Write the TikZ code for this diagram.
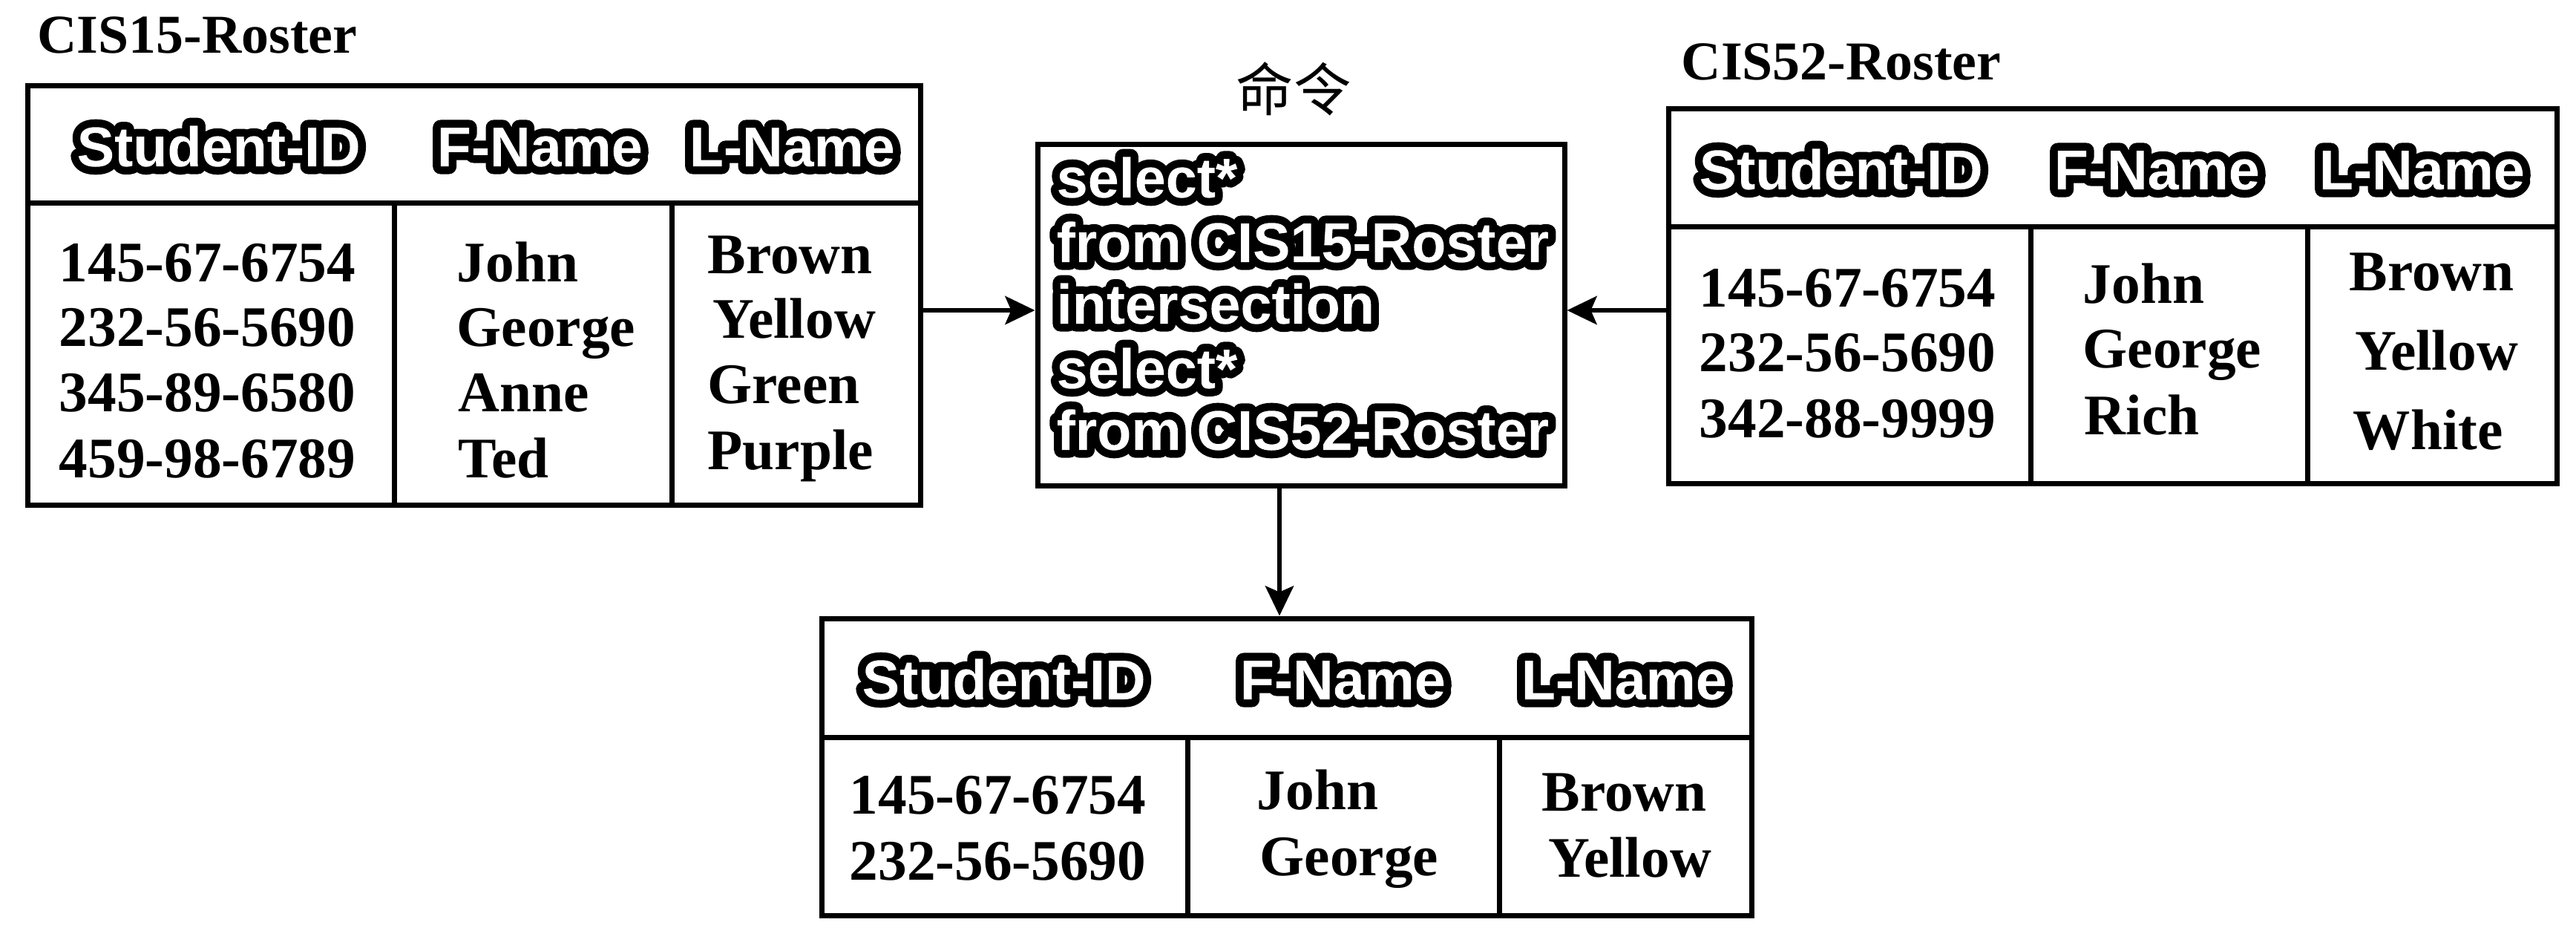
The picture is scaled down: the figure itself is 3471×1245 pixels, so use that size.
\documentclass[tikz,border=0pt]{standalone}
\usepackage{fontspec}
\setmainfont{Liberation Serif}
\newfontfamily\hsans{Liberation Sans Bold}
\newfontfamily\cjk{Noto Sans CJK SC}
\usetikzlibrary{arrows.meta,fit}
\newsavebox\olbox
\makeatletter
\newcommand\olt[1]{%
  \sbox\olbox{#1}%
  \special{x:gsave}%
  \special{pdf:literal direct 6 Tr 6 w 1 j 0 g 0 G}%
  \usebox\olbox
  \special{pdf:content 1 g \strip@pt\dimexpr-\wd\olbox-4pt\relax\space\strip@pt\dimexpr-\dp\olbox-4pt\relax\space\strip@pt\dimexpr\wd\olbox+8pt\relax\space\strip@pt\dimexpr\ht\olbox+\dp\olbox+8pt\relax\space re f}%
  \special{x:grestore}}
\makeatother
\begin{document}
\begin{tikzpicture}[x=0.1mm,y=-0.1mm,
  tbl/.style={draw, line width=0.7mm, inner sep=0pt},
  ln/.style={line width=0.7mm},
  dat/.style={anchor=base west, inner sep=0pt, font=\bfseries\fontsize{22pt}{26pt}\selectfont},
  ttl/.style={anchor=base west, inner sep=0pt, font=\bfseries\fontsize{21pt}{26pt}\selectfont},
  hdr/.style={anchor=base west, inner sep=0pt, font=\hsans\fontsize{21.5pt}{26pt}\selectfont},
  arr/.style={line width=0.65mm, -{Stealth[length=4mm,width=3.8mm,inset=0.8mm]}}]
\useasboundingbox (0,0) rectangle (3471,1245);

% ---------- CIS15 ----------
\node[ttl] (n15) at (50,71) {CIS15-Roster};
\node[tbl, fit={(37,115) (1240,680)}] (t15) {};
\draw[ln] (37,273) -- (1240,273);
\draw[ln] (531,273) -- (531,680);
\draw[ln] (905,273) -- (905,680);
\node[hdr] (h15a) at (103,224) {\olt{Student-ID}};
\node[hdr] (h15b) at (588,224) {\olt{F-Name}};
\node[hdr] (h15c) at (928,224) {\olt{L-Name}};
\node[dat] (a1) at (79,379) {145-67-6754};
\node[dat] (a2) at (79,466) {232-56-5690};
\node[dat] (a3) at (79,554) {345-89-6580};
\node[dat] (a4) at (79,643) {459-98-6789};
\node[dat] (b1) at (615,379) {John};
\node[dat] (b2) at (615,466) {George};
\node[dat] (b3) at (617,554) {Anne};
\node[dat] (b4) at (617,643) {Ted};
\node[dat] (c1) at (953,368) {Brown};
\node[dat] (c2) at (960,455) {Yellow};
\node[dat] (c3) at (953,543) {Green};
\node[dat] (c4) at (953,632) {Purple};

% ---------- command box ----------
\node[font=\cjk\fontsize{22pt}{26pt}\selectfont, inner sep=0pt] (cmd) at (1743,120) {命令};
\node[tbl, fit={(1398,194) (2108,654)}] (sql) {};
\node[hdr] (q1) at (1423,266) {\olt{select*}};
\node[hdr] (q2) at (1423,353) {\olt{from CIS15-Roster}};
\node[hdr] (q3) at (1423,436) {\olt{intersection}};
\node[hdr] (q4) at (1423,523) {\olt{select*}};
\node[hdr] (q5) at (1423,606) {\olt{from CIS52-Roster}};

% ---------- CIS52 ----------
\node[ttl] (n52) at (2265,107) {CIS52-Roster};
\node[tbl, fit={(2248,146) (3445,651)}] (t52) {};
\draw[ln] (2248,305) -- (3445,305);
\draw[ln] (2736,305) -- (2736,651);
\draw[ln] (3109,305) -- (3109,651);
\node[hdr] (h52a) at (2289,255) {\olt{Student-ID}};
\node[hdr] (h52b) at (2767,255) {\olt{F-Name}};
\node[hdr] (h52c) at (3124,255) {\olt{L-Name}};
\node[dat] (d1) at (2289,413) {145-67-6754};
\node[dat] (d2) at (2289,500) {232-56-5690};
\node[dat] (d3) at (2289,589) {342-88-9999};
\node[dat] (e1) at (2806,408) {John};
\node[dat] (e2) at (2806,495) {George};
\node[dat] (e3) at (2808,585) {Rich};
\node[dat] (f1) at (3165,391) {Brown};
\node[dat] (f2) at (3173,498) {Yellow};
\node[dat] (f3) at (3170,605) {White};

% ---------- result ----------
\node[tbl, fit={(1107,833) (2360,1233)}] (tres) {};
\draw[ln] (1107,993) -- (2360,993);
\draw[ln] (1600,993) -- (1600,1233);
\draw[ln] (2020,993) -- (2020,1233);
\node[hdr] (hra) at (1161,942) {\olt{Student-ID}};
\node[hdr] (hrb) at (1670,942) {\olt{F-Name}};
\node[hdr] (hrc) at (2049,942) {\olt{L-Name}};
\node[dat] (g1) at (1144,1096) {145-67-6754};
\node[dat] (g2) at (1144,1185) {232-56-5690};
\node[dat] (k1) at (1693,1090) {John};
\node[dat] (k2) at (1697,1179) {George};
\node[dat] (m1) at (2077,1092) {Brown};
\node[dat] (m2) at (2086,1181) {Yellow};

% ---------- connectors ----------
\coordinate (ya) at (0,418);
\coordinate (xd) at (1724,0);
\draw[arr] (t15.east |- ya) -- (sql.west |- ya);
\draw[arr] (t52.west |- ya) -- (sql.east |- ya);
\draw[arr] (sql.south -| xd) -- (tres.north -| xd);
\end{tikzpicture}
\end{document}
